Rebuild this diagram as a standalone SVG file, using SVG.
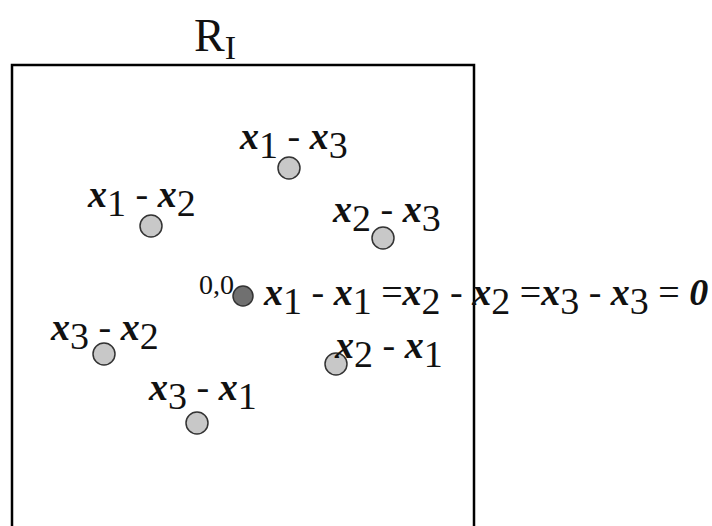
<svg xmlns="http://www.w3.org/2000/svg" width="712" height="526" viewBox="0 0 712 526">
<style>
text{font-family:"Liberation Serif","Times New Roman",serif;fill:#111}
.v{font-weight:bold;font-style:italic}
.n{font-weight:normal;font-style:normal}
.lbl{font-size:38px}
.pt{fill:#c8c8c8;stroke:#333;stroke-width:1.5}
.org{fill:#707070;stroke:#333;stroke-width:1.5}
</style>
<rect width="712" height="526" fill="#fff"/>
<g id="region">
<path d="M12 540 V65 H474 V540" fill="none" stroke="#000" stroke-width="2.5"/>
<text x="194" y="51" font-size="46">R<tspan font-size="34" dy="8">I</tspan></text>
</g>
<g id="p13"><circle class="pt" cx="289" cy="168" r="11"/>
<text class="lbl" x="240" y="149"><tspan class="v">x</tspan><tspan class="n" dy="9">1</tspan><tspan class="n" dy="-9"> - </tspan><tspan class="v">x</tspan><tspan class="n" dy="9">3</tspan></text></g>
<g id="p12"><circle class="pt" cx="151" cy="226" r="11"/>
<text class="lbl" x="88" y="207"><tspan class="v">x</tspan><tspan class="n" dy="9">1</tspan><tspan class="n" dy="-9"> - </tspan><tspan class="v">x</tspan><tspan class="n" dy="9">2</tspan></text></g>
<g id="p23"><circle class="pt" cx="383" cy="238" r="11"/>
<text class="lbl" x="333" y="222"><tspan class="v">x</tspan><tspan class="n" dy="9">2</tspan><tspan class="n" dy="-9"> - </tspan><tspan class="v">x</tspan><tspan class="n" dy="9">3</tspan></text></g>
<g id="origin">
<text x="199" y="294" font-size="28">0,0</text>
<circle class="org" cx="243" cy="296" r="10"/>
<text class="lbl" x="264" y="305"><tspan class="v">x</tspan><tspan class="n" dy="9">1</tspan><tspan class="n" dy="-9"> - </tspan><tspan class="v">x</tspan><tspan class="n" dy="9">1</tspan><tspan class="n" dy="-9"> =</tspan><tspan class="v">x</tspan><tspan class="n" dy="9">2</tspan><tspan class="n" dy="-9"> - </tspan><tspan class="v">x</tspan><tspan class="n" dy="9">2</tspan><tspan class="n" dy="-9"> =</tspan><tspan class="v">x</tspan><tspan class="n" dy="9">3</tspan><tspan class="n" dy="-9"> - </tspan><tspan class="v">x</tspan><tspan class="n" dy="9">3</tspan><tspan class="n" dy="-9"> = </tspan><tspan class="v">0</tspan></text></g>
<g id="p32"><circle class="pt" cx="104" cy="354" r="11"/>
<text class="lbl" x="51" y="340"><tspan class="v">x</tspan><tspan class="n" dy="9">3</tspan><tspan class="n" dy="-9"> - </tspan><tspan class="v">x</tspan><tspan class="n" dy="9">2</tspan></text></g>
<g id="p21"><circle class="pt" cx="336" cy="364" r="11"/>
<text class="lbl" x="335" y="358"><tspan class="v">x</tspan><tspan class="n" dy="9">2</tspan><tspan class="n" dy="-9"> - </tspan><tspan class="v">x</tspan><tspan class="n" dy="9">1</tspan></text></g>
<g id="p31"><circle class="pt" cx="197" cy="423" r="11"/>
<text class="lbl" x="149" y="400"><tspan class="v">x</tspan><tspan class="n" dy="9">3</tspan><tspan class="n" dy="-9"> - </tspan><tspan class="v">x</tspan><tspan class="n" dy="9">1</tspan></text></g>
</svg>
